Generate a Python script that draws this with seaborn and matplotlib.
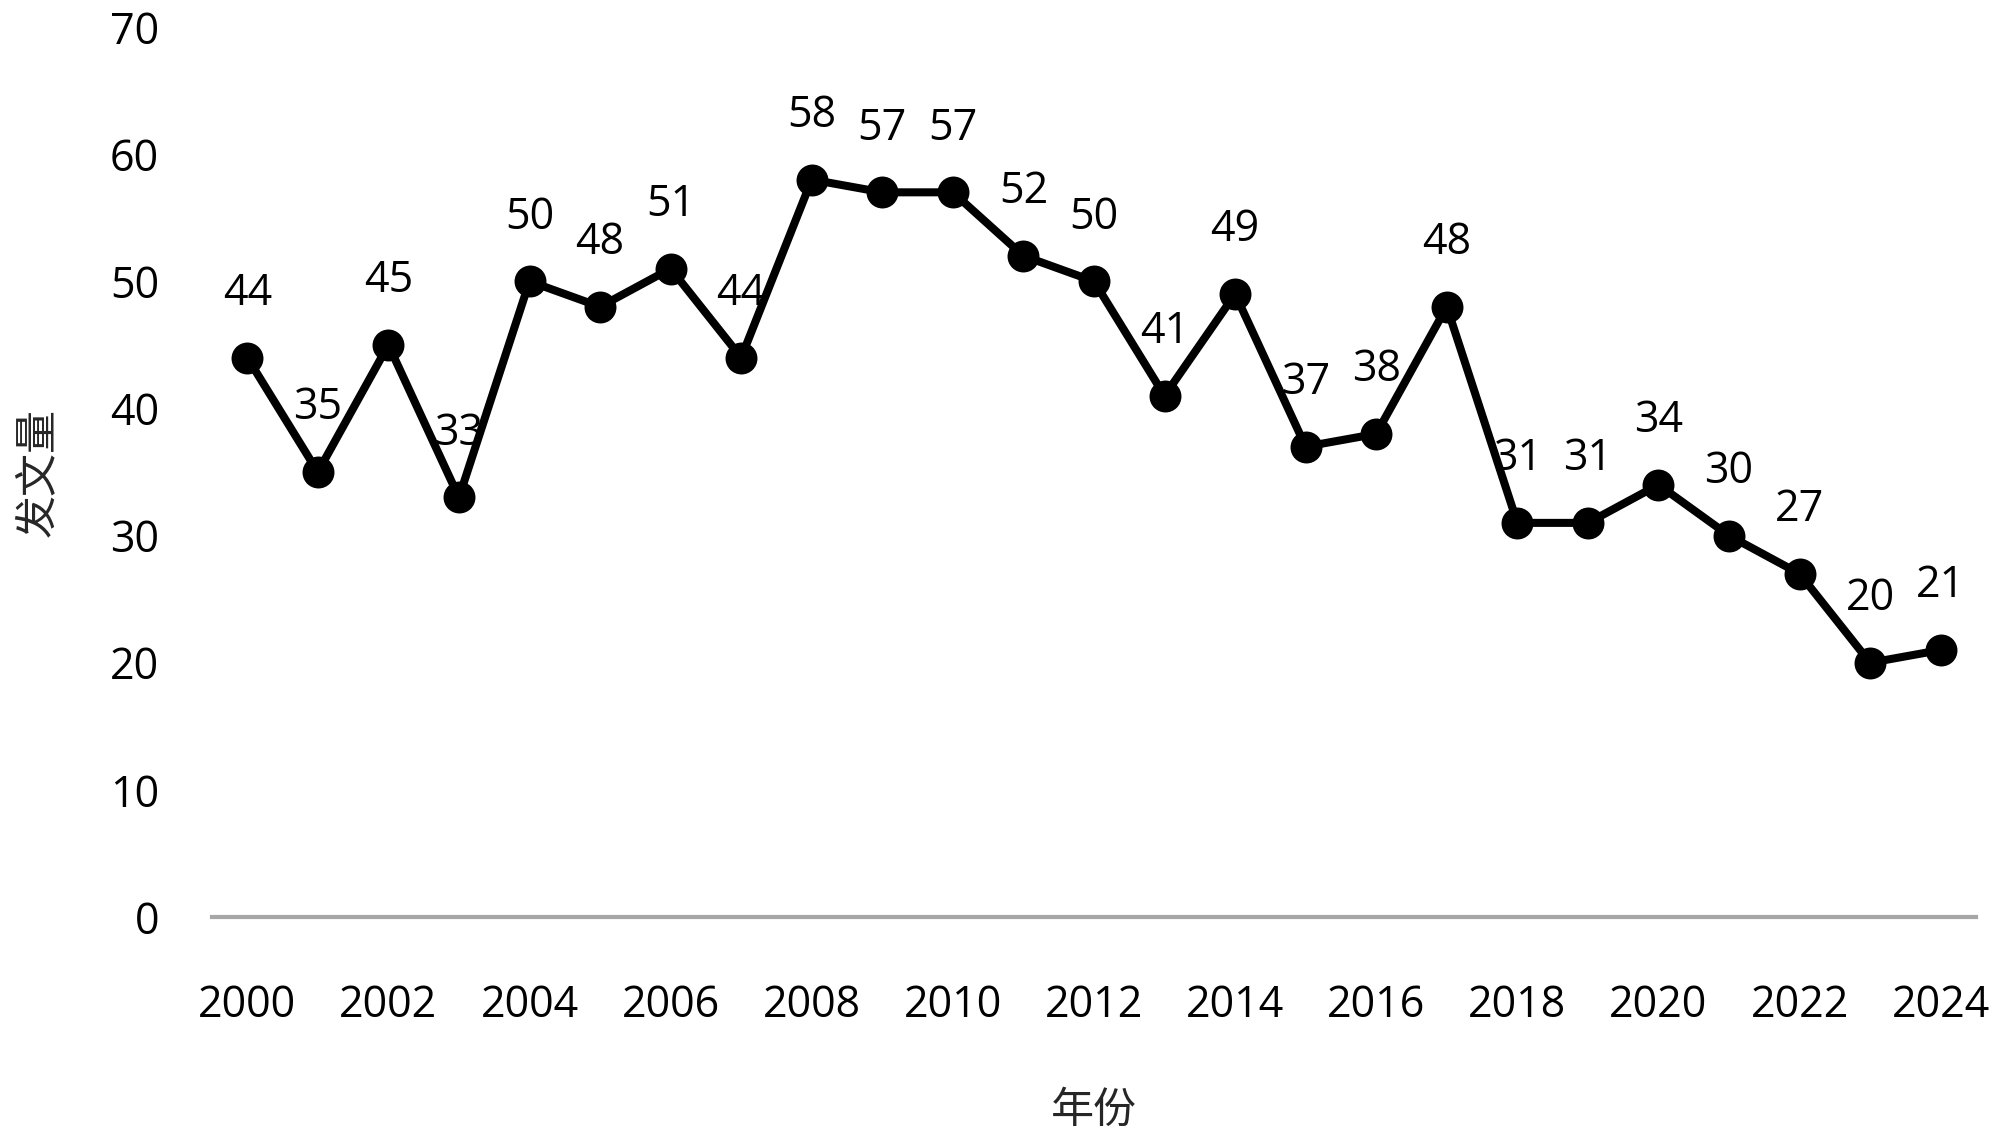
import matplotlib
matplotlib.use("Agg")
import matplotlib.pyplot as plt
import seaborn as sns
import pandas as pd

# data
years = list(range(2000, 2025))
counts = [44, 35, 45, 33, 50, 48, 51, 44, 58, 57, 57, 52, 50, 41, 49,
          37, 38, 48, 31, 31, 34, 30, 27, 20, 21]
xticks = list(range(2000, 2025, 2))
yticks = list(range(0, 80, 10))

sns.set_style("white")
plt.rcParams['font.family'] = ['Open Sans', 'Noto Sans CJK SC', 'DejaVu Sans']

df = pd.DataFrame({"year": years, "count": counts})

fig = plt.figure(figsize=(20, 11.41), dpi=100)
ax = fig.add_axes([0.106, 0.1963, 0.882, 0.78])

sns.lineplot(data=df, x="year", y="count", ax=ax, color="black",
             linewidth=5.8, marker="o", markersize=23, markeredgewidth=0,
             markerfacecolor="black", zorder=3)

for x, y in zip(years, counts):
    ax.annotate(str(y), (x, y), xytext=(0, 46), textcoords="offset points",
                ha="center", va="center", fontsize=31, color="black", zorder=2)

ax.set_xlim(1999.5, 2024.5)
ax.set_ylim(0, 70)
ax.set_xticks(xticks)
ax.set_yticks(yticks)
ax.tick_params(axis="both", labelsize=31, length=0, colors="black")
ax.tick_params(axis="x", pad=48)
ax.tick_params(axis="y", pad=38)

for s in ["top", "right", "left"]:
    ax.spines[s].set_visible(False)
ax.spines["bottom"].set_color("#a6a6a6")
ax.spines["bottom"].set_linewidth(3)

ax.set_xlabel("年份", fontsize=31, family=['Noto Sans CJK SC', 'DejaVu Sans'], labelpad=44)
ax.set_ylabel("发文量", fontsize=31, family=['Noto Sans CJK SC', 'DejaVu Sans'], labelpad=36)

fig.savefig("out.png", dpi=100)
